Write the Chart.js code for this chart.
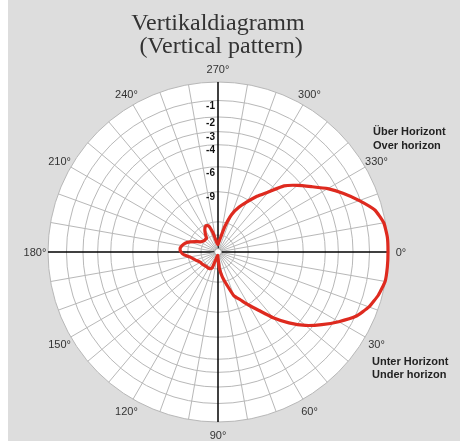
<!DOCTYPE html>
<html>
<head>
<meta charset="utf-8">
<style>
  html, body { margin: 0; padding: 0; background: #fff; }
  canvas { display: block; }
</style>
<script src="https://cdn.jsdelivr.net/npm/chart.js@4"></script>
</head>
<body>
<canvas id="chart" width="460" height="441"></canvas>
<script>
// angles of the pattern, degrees (0 = right, clockwise, 90 = down)
const angles = [
  0, 5, 10, 15, 20, 25, 30, 35, 40, 45, 50, 55,
  60, 65, 70, 75, 80, 85, 90, 95, 100, 105, 110, 115,
  120, 125, 130, 135, 140, 145, 150, 155, 160, 165, 170, 175,
  180, 185, 190, 195, 200, 205, 210, 215, 220, 225, 230, 235,
  240, 245, 250, 255, 260, 265, 270, 275, 280, 285, 290, 295,
  300, 305, 310, 315, 320, 325, 330, 335, 340, 345, 350, 355
];

// relative field strength (1 = 0 dB)
const pattern = [
  1.0, 1.0, 0.998, 0.977, 0.945, 0.895, 0.82, 0.745, 0.672, 0.59, 0.505, 0.42,
  0.36, 0.31, 0.275, 0.2, 0.15, 0.1, 0.035, 0.02, 0.025, 0.04, 0.1, 0.108,
  0.11, 0.11, 0.11, 0.112, 0.115, 0.118, 0.12, 0.128, 0.14, 0.152, 0.167, 0.2,
  0.218, 0.224, 0.215, 0.2, 0.175, 0.145, 0.12, 0.11, 0.105, 0.105, 0.105, 0.13,
  0.155, 0.17, 0.165, 0.12, 0.07, 0.05, 0.045, 0.06, 0.085, 0.155, 0.235, 0.29,
  0.34, 0.40, 0.46, 0.55, 0.61, 0.67, 0.745, 0.815, 0.885, 0.955, 0.99, 1.0
];

// rings in dB and which of them carry a label
const ringDb = [-20, -15, -9, -6, -4, -3, -2, -1, 0];
const ringLabels = [-1, -2, -3, -4, -6, -9];

// angle labels round the circle
const angleTicks = [0, 30, 60, 90, 120, 150, 180, 210, 240, 270, 300, 330];

const dbToRel = (db) => Math.pow(10, db / 20);

const polarDecor = {
  id: "polarDecor",
  beforeDraw(chart) {
    const { ctx } = chart;
    const r = chart.scales.r;
    ctx.save();
    ctx.fillStyle = "#dddddd";
    ctx.fillRect(8, 0, chart.width - 8, chart.height);
    ctx.fillStyle = "#ffffff";
    ctx.beginPath();
    ctx.arc(r.xCenter, r.yCenter, r.drawingArea, 0, Math.PI * 2);
    ctx.fill();
    ctx.restore();
  },
  beforeDatasetsDraw(chart) {
    const { ctx } = chart;
    const r = chart.scales.r;
    ctx.save();
    ctx.fillStyle = "#ffffff";
    ctx.strokeStyle = "#999999";
    ctx.lineWidth = 1;
    ctx.beginPath();
    ctx.arc(r.xCenter, r.yCenter, 3.5, 0, Math.PI * 2);
    ctx.fill();
    ctx.stroke();

    // dB labels on the upper vertical axis
    ctx.fillStyle = "#111111";
    ctx.font = "bold 10px 'Liberation Sans', Arial, sans-serif";
    ctx.textAlign = "right";
    ctx.textBaseline = "top";
    ringLabels.forEach((db) => {
      const d = r.getDistanceFromCenterForValue(dbToRel(db));
      ctx.fillText(String(db), r.xCenter - 3, r.yCenter - d + 1);
    });
    ctx.restore();
  },
  afterDraw(chart) {
    const { ctx } = chart;
    const r = chart.scales.r;
    ctx.save();
    ctx.fillStyle = "#333333";
    ctx.font = "11px 'Liberation Sans', Arial, sans-serif";
    ctx.textAlign = "center";
    ctx.textBaseline = "middle";
    angleTicks.forEach((a) => {
      const p = r.getPointPosition(angles.indexOf(a), r.drawingArea + 13);
      ctx.fillText(a + "°", p.x, p.y + 1);
    });

    ctx.fillStyle = "#222222";
    ctx.font = "bold 11px 'Liberation Sans', Arial, sans-serif";
    ctx.textAlign = "left";
    ctx.fillText("Über Horizont", 373, 132);
    ctx.fillText("Over horizon", 373, 146);
    ctx.fillText("Unter Horizont", 372, 362);
    ctx.fillText("Under horizon", 372, 375);
    ctx.restore();
  }
};

new Chart(document.getElementById("chart"), {
  type: "radar",
  data: {
    labels: angles,
    datasets: [
      {
        data: pattern,
        borderColor: "#de2a1f",
        borderWidth: 3.2,
        fill: false,
        pointRadius: 0,
        tension: 0.15,
        borderJoinStyle: "round"
      }
    ]
  },
  options: {
    responsive: false,
    devicePixelRatio: 1,
    animation: false,
    layout: {
      padding: { left: 48, right: 72, top: 0, bottom: 18 }
    },
    plugins: {
      legend: { display: false },
      tooltip: { enabled: false },
      title: {
        display: true,
        text: ["Vertikaldiagramm", " (Vertical pattern)"],
        color: "#333333",
        font: { family: "'Liberation Serif', 'Times New Roman', serif", size: 24, weight: "normal", lineHeight: 0.97 },
        padding: { top: 11.8, bottom: 24.6 }
      }
    },
    scales: {
      r: {
        min: 0,
        max: 1,
        startAngle: 90,
        afterBuildTicks: (scale) => {
          scale.ticks = [{ value: 0 }].concat(ringDb.map((db) => ({ value: dbToRel(db) })));
        },
        ticks: { display: false },
        grid: { circular: true, color: "#b8b8b8", lineWidth: 1 },
        angleLines: {
          color: (ctx) => (ctx.index % 18 === 0 ? "#000000" : "#b8b8b8"),
          lineWidth: (ctx) => (ctx.index % 18 === 0 ? 1.5 : ctx.index % 2 === 0 ? 1 : 0)
        },
        pointLabels: { display: false }
      }
    }
  },
  plugins: [polarDecor]
});
</script>
</body>
</html>
